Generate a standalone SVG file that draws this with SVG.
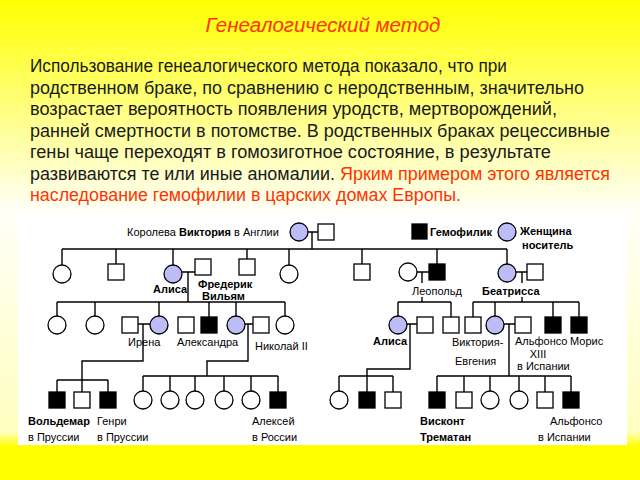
<svg xmlns="http://www.w3.org/2000/svg" width="640" height="480" viewBox="0 0 640 480">
<defs>
<linearGradient id="bg" x1="0" y1="0" x2="0" y2="1">
<stop offset="0" stop-color="#ffff00"/>
<stop offset="0.44" stop-color="#fffff8"/>
<stop offset="0.9" stop-color="#ffffc0"/>
<stop offset="0.93" stop-color="#ffff00"/>
<stop offset="1" stop-color="#ffff00"/>
</linearGradient>
<style>
.t{font-family:"Liberation Sans",Arial,sans-serif;fill:#1a1a1a}
.body{font-size:17.5px}
.red{fill:#ff3300}
.lb{font-family:"Liberation Sans",Arial,sans-serif;font-size:11px;fill:#000}
.b{font-weight:bold}
.c{fill:#fff;stroke:#000;stroke-width:1.3}
.cb{fill:#bcbcf6;stroke:#000;stroke-width:1.3}
.sq{fill:#fff;stroke:#000;stroke-width:1.3}
.sb{fill:#000;stroke:#000;stroke-width:1.3}
.ln{fill:none;stroke:#000;stroke-width:1.4}
</style>
</defs>
<rect x="0" y="0" width="640" height="480" fill="url(#bg)"/>
<rect x="18" y="212" width="609" height="233" fill="#fff"/>

<g id="title">
<text class="t red" x="323" y="32" text-anchor="middle" font-size="20.5" font-style="italic">Генеалогический метод</text>
</g>
<g id="paragraph" class="t body">
<text x="30" y="72" textLength="477" lengthAdjust="spacingAndGlyphs">Использование генеалогического метода показало, что при</text>
<text x="30" y="93.5" textLength="554" lengthAdjust="spacingAndGlyphs">родственном браке, по сравнению с неродственным, значительно</text>
<text x="30" y="115" textLength="527" lengthAdjust="spacingAndGlyphs">возрастает вероятность появления уродств, мертворождений,</text>
<text x="30" y="136.5" textLength="580" lengthAdjust="spacingAndGlyphs">ранней смертности в потомстве. В родственных браках рецессивные</text>
<text x="30" y="158" textLength="521" lengthAdjust="spacingAndGlyphs">гены чаще переходят в гомозиготное состояние, в результате</text>
<text x="30" y="179.5" textLength="580" lengthAdjust="spacingAndGlyphs">развиваются те или иные аномалии. <tspan class="red">Ярким примером этого является</tspan></text>
<text x="30" y="201" class="red" textLength="431" lengthAdjust="spacingAndGlyphs">наследование гемофилии в царских домах Европы.</text>
</g>

<g id="connectors" class="ln">
<path d="M308 232H318M312 232V249M62 249H507"/>
<path d="M62 249V265M116 249V264M173 249V265M247 249V259M289 249V265M362 249V264M437 249V264M507 249V264"/>
<path d="M182 272H195M188 272V302"/>
<path d="M417 272H429M422 272V283M422 297V302"/>
<path d="M516 272H527M522 272V283M522 297V302"/>
<path d="M57 302H285M57 302V316M95 302V316M159 302V316M209 302V317M236 302V316M285 302V316"/>
<path d="M398 302H451M398 302V316M451 302V317"/>
<path d="M473 302H579M473 302V317M495 302V316M553 302V317M579 302V317"/>
<path d="M137 324H150M143 324V361H82V380M57 380H108M57 380V392M82 380V392M108 380V392"/>
<path d="M245 324H253M248 324V361H207V376M143 376H278M143 376V391M170 376V391M195 376V391M224 376V391M251 376V391M278 376V392"/>
<path d="M407 324H417M410 324V369H367V376M339 376H393M339 376V391M367 376V392M393 376V392"/>
<path d="M504 324H515M509 324V376M437 376H571M437 376V392M464 376V392M490 376V391M519 376V391M545 376V392M571 376V392"/>
</g>

<g id="legend-hemophiliac"><rect class="sb" x="412" y="224" width="15" height="15"/><text class="lb b" x="430" y="236">Гемофилик</text></g>
<g id="legend-carrier"><circle class="cb" cx="507" cy="232" r="9"/><text class="lb b" x="520" y="235">Женщина</text><text class="lb b" x="522" y="249">носитель</text></g>

<g id="victoria"><circle class="cb" cx="299" cy="232" r="9"/><text class="lb" x="127" y="236">Королева <tspan class="b">Виктория</tspan> в Англии</text></g>
<g id="albert"><rect class="sq" x="318" y="224" width="16" height="16"/></g>

<g id="g2-1"><circle class="c" cx="62" cy="274" r="9"/></g>
<g id="g2-2"><rect class="sq" x="108" y="264" width="16" height="16"/></g>
<g id="alice"><circle class="cb" cx="173" cy="274" r="9"/><text class="lb b" x="153" y="293">Алиса</text></g>
<g id="frederick"><rect class="sq" x="195" y="259" width="16" height="16"/><text class="lb b" x="198" y="288">Фредерик</text><text class="lb b" x="202" y="300">Вильям</text></g>
<g id="g2-4"><rect class="sq" x="239" y="259" width="16" height="16"/></g>
<g id="g2-5"><circle class="c" cx="289" cy="274" r="9"/></g>
<g id="g2-6"><rect class="sq" x="354" y="264" width="16" height="16"/></g>
<g id="leopold-wife"><circle class="c" cx="408" cy="272" r="9"/></g>
<g id="leopold"><rect class="sb" x="429" y="264" width="16" height="16"/><text class="lb" x="412" y="295">Леопольд</text></g>
<g id="beatrice"><circle class="cb" cx="507" cy="273" r="9"/><text class="lb b" x="482" y="295">Беатрисса</text></g>
<g id="henry"><rect class="sq" x="527" y="264" width="16" height="16"/></g>

<g id="g3-1"><circle class="c" cx="57" cy="325" r="9"/></g>
<g id="g3-2"><circle class="c" cx="95" cy="325" r="9"/></g>
<g id="irena-husband"><rect class="sq" x="122" y="317" width="16" height="16"/></g>
<g id="irena"><circle class="cb" cx="159" cy="325" r="9"/><text class="lb" x="128" y="346">Ирена</text></g>
<g id="g3-4"><rect class="sq" x="178" y="317" width="16" height="16"/></g>
<g id="g3-5"><rect class="sb" x="201" y="317" width="16" height="16"/></g>
<g id="alexandra"><circle class="cb" cx="236" cy="325" r="9"/><text class="lb" x="177" y="346">Александра</text></g>
<g id="nicholas"><rect class="sq" x="253" y="317" width="16" height="16"/><text class="lb" x="255" y="350">Николай II</text></g>
<g id="g3-7"><circle class="c" cx="285" cy="325" r="9"/></g>

<g id="alice-2"><circle class="cb" cx="398" cy="325" r="9"/><text class="lb b" x="373" y="345">Алиса</text></g>
<g id="alice-2-husband"><rect class="sq" x="417" y="317" width="16" height="16"/></g>
<g id="g3-9"><rect class="sq" x="443" y="317" width="16" height="16"/></g>
<g id="g3-10"><rect class="sq" x="465" y="317" width="16" height="16"/></g>
<g id="victoria-eugenie"><circle class="cb" cx="495" cy="325" r="9"/><text class="lb" x="452" y="346">Виктория-</text><text class="lb" x="455" y="365">Евгения</text></g>
<g id="alfonso-xiii"><rect class="sq" x="515" y="317" width="16" height="16"/><text class="lb" x="515" y="345">Альфонсо</text><text class="lb" x="538" y="358" text-anchor="middle">XIII</text><text class="lb" x="517" y="370">в Испании</text></g>
<g id="g3-12"><rect class="sb" x="545" y="317" width="16" height="16"/></g>
<g id="maurice"><rect class="sb" x="571" y="317" width="16" height="16"/><text class="lb" x="570" y="345">Морис</text></g>

<g id="waldemar"><rect class="sb" x="49" y="392" width="16" height="16"/><text class="lb b" x="28" y="425">Вольдемар</text><text class="lb" x="28" y="441">в Пруссии</text></g>
<g id="g4-2"><rect class="sq" x="74" y="392" width="16" height="16"/></g>
<g id="henry-prussia"><rect class="sb" x="100" y="392" width="16" height="16"/><text class="lb" x="97" y="425">Генри</text><text class="lb" x="97" y="441">в Пруссии</text></g>
<g id="g4-4"><circle class="c" cx="143" cy="400" r="9"/></g>
<g id="g4-5"><circle class="c" cx="170" cy="400" r="9"/></g>
<g id="g4-6"><circle class="c" cx="195" cy="400" r="9"/></g>
<g id="g4-7"><circle class="c" cx="224" cy="400" r="9"/></g>
<g id="g4-8"><circle class="c" cx="251" cy="400" r="9"/></g>
<g id="alexei"><rect class="sb" x="270" y="392" width="16" height="16"/><text class="lb" x="252" y="425">Алексей</text><text class="lb" x="252" y="441">в России</text></g>
<g id="g4-10"><circle class="c" cx="339" cy="400" r="9"/></g>
<g id="g4-11"><rect class="sb" x="359" y="392" width="16" height="16"/></g>
<g id="g4-12"><rect class="sq" x="385" y="392" width="16" height="16"/></g>
<g id="viscount"><rect class="sb" x="429" y="392" width="16" height="16"/><text class="lb b" x="420" y="425">Висконт</text><text class="lb b" x="420" y="441">Трематан</text></g>
<g id="g4-14"><rect class="sq" x="456" y="392" width="16" height="16"/></g>
<g id="g4-15"><circle class="c" cx="490" cy="400" r="9"/></g>
<g id="g4-16"><circle class="c" cx="519" cy="400" r="9"/></g>
<g id="g4-17"><rect class="sq" x="537" y="392" width="16" height="16"/></g>
<g id="alfonso"><rect class="sb" x="563" y="392" width="16" height="16"/><text class="lb" x="550" y="425">Альфонсо</text><text class="lb" x="538" y="441">в Испании</text></g>
</svg>
